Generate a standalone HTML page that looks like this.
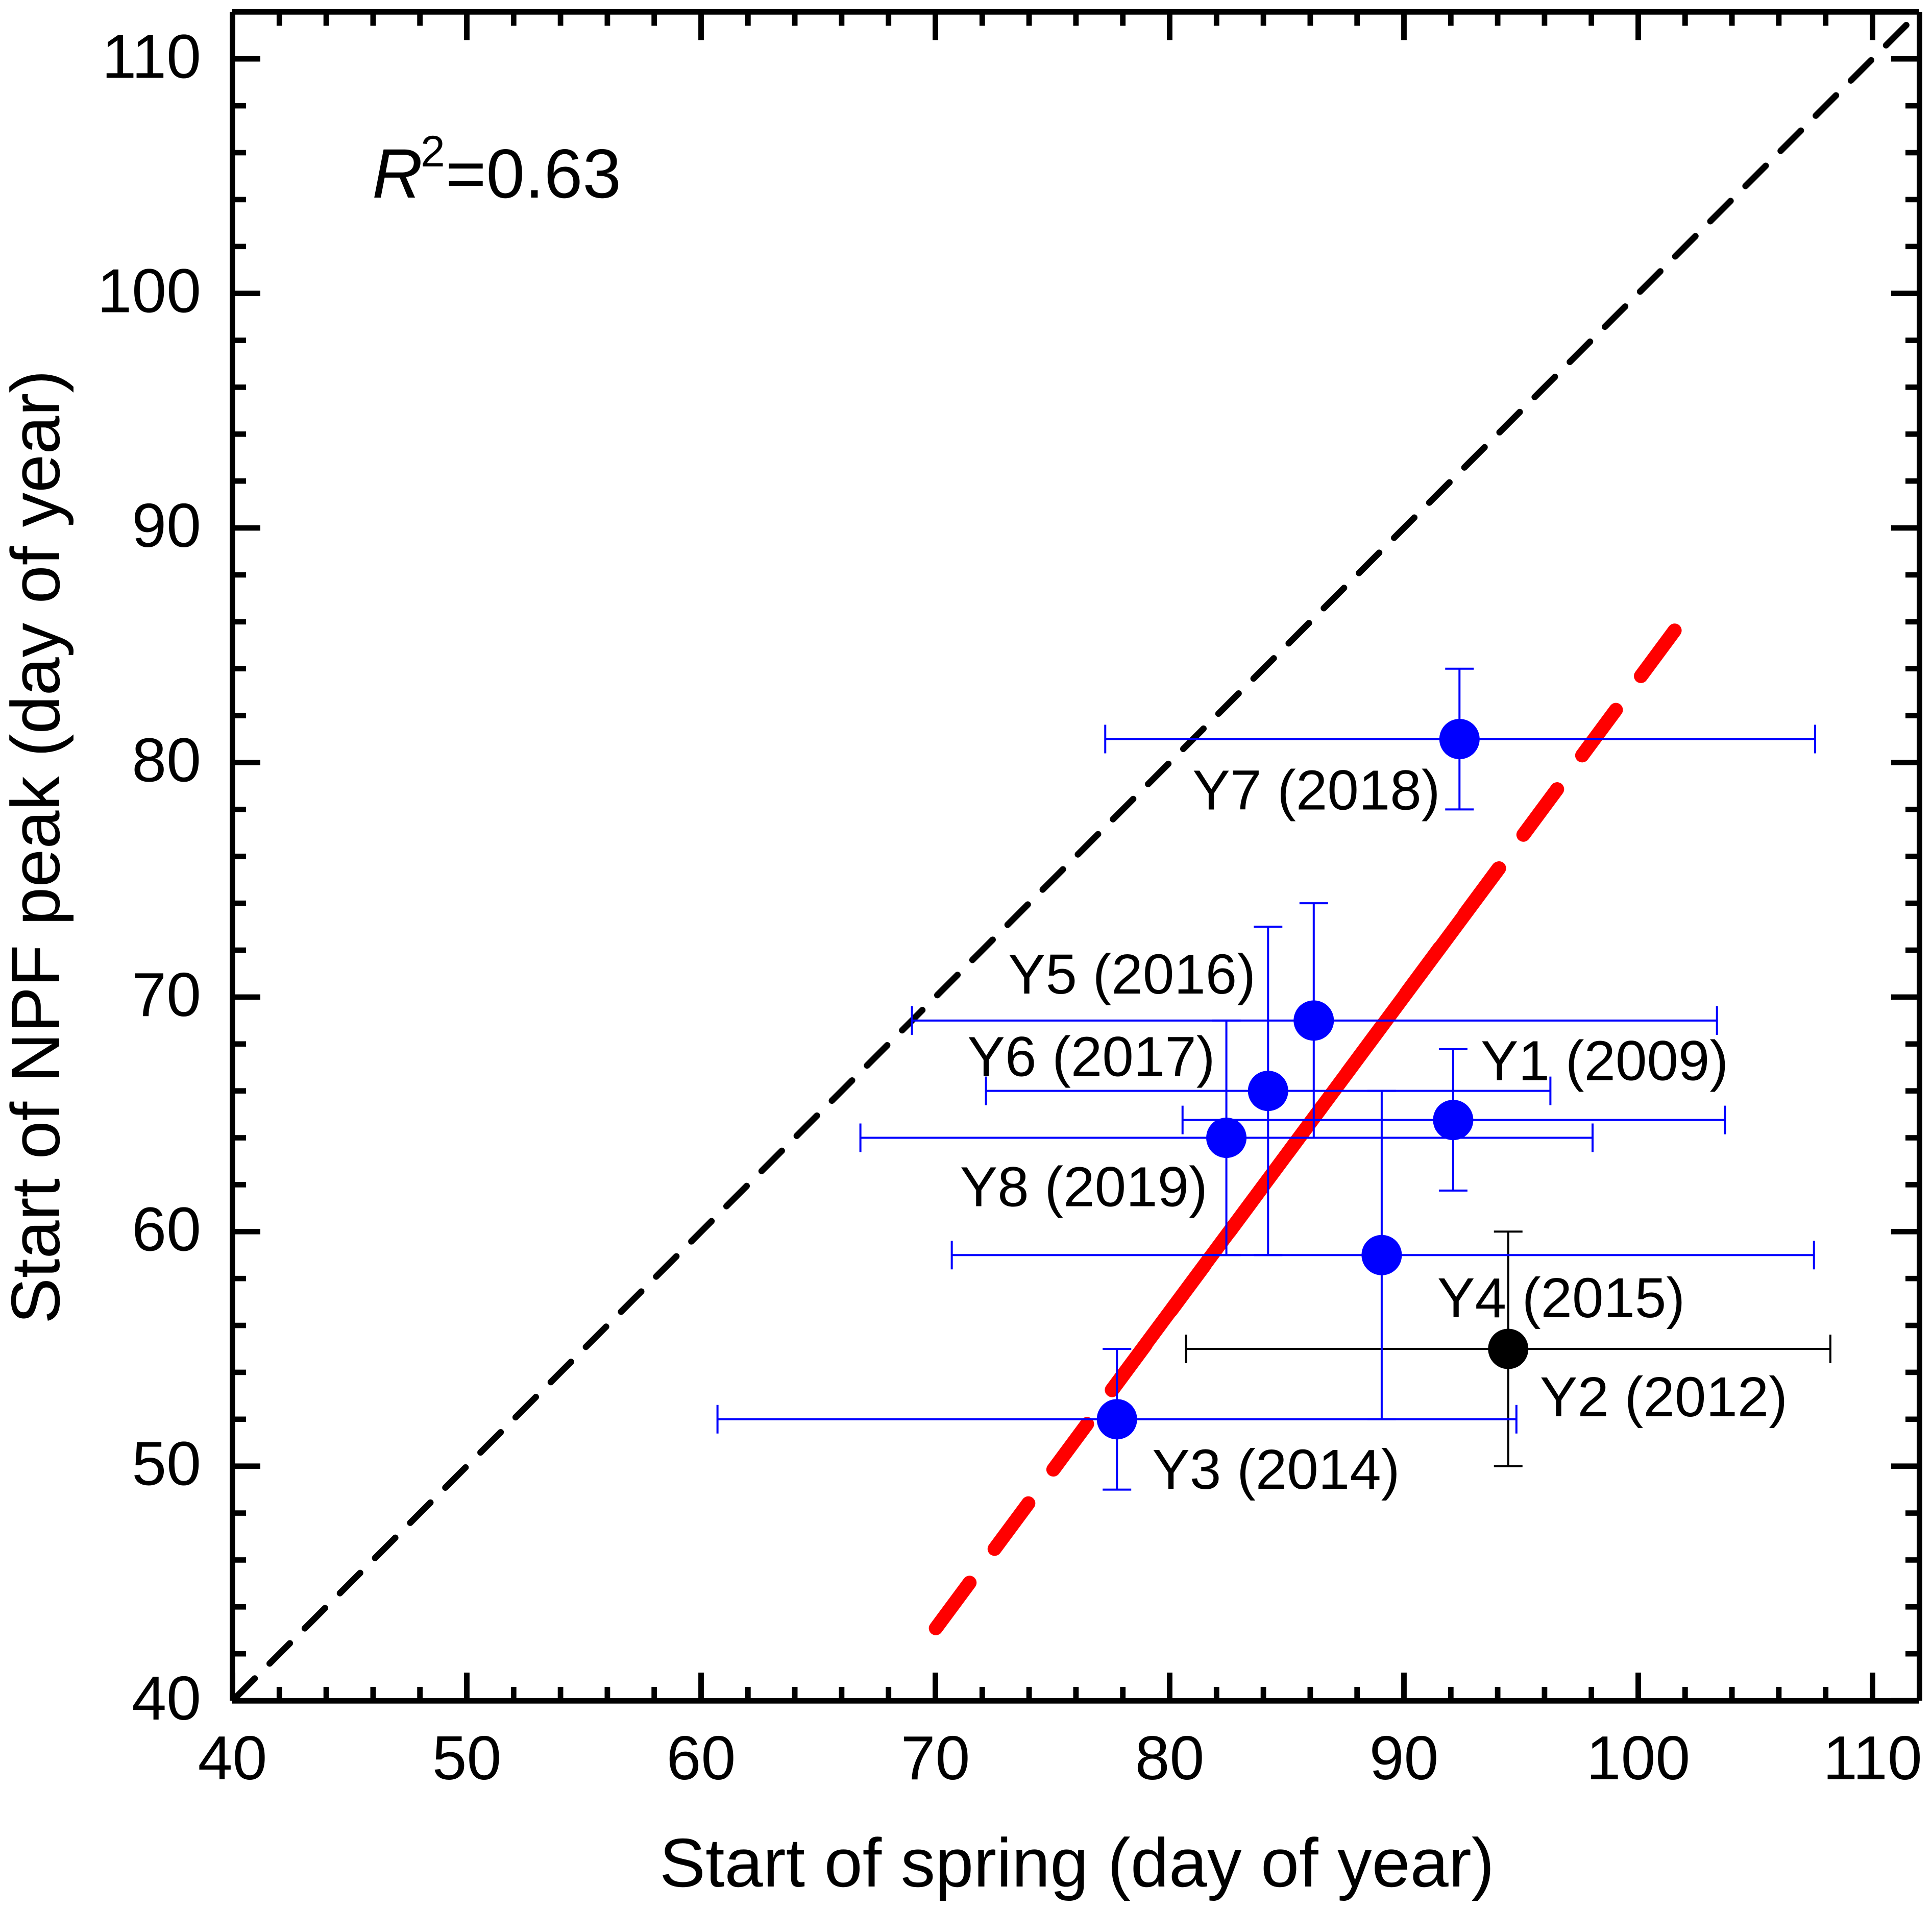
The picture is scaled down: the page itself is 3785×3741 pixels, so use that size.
<!DOCTYPE html>
<html lang="en">
<head>
<meta charset="utf-8">
<title>Start of NPF peak vs start of spring</title>
<style>
html,body{margin:0;padding:0;background:#fff;}
svg{display:block;}
text{font-family:"Liberation Sans",Arial,sans-serif;fill:#000;}
</style>
</head>
<body>
<svg id="chart" xmlns="http://www.w3.org/2000/svg" width="3785" height="3741" viewBox="0 0 3785 3741">
  <rect x="0" y="0" width="3785" height="3741" fill="#fff"></rect>
  <g id="fit-layer"></g>
  <g id="points-layer"></g>
  <g id="axes-layer"></g>
  <text x="729" y="387" font-size="137" font-style="italic">R</text>
  <text x="824" y="326" font-size="86">2</text>
  <text x="873" y="387" font-size="136">=0.63</text>
  <text x="1292" y="3695" font-size="135">Start of spring (day of year)</text>
  <text transform="translate(116 2593) rotate(-90)" x="0" y="0" font-size="135">Start of NPF peak (day of year)</text>
</svg>
<script>
var pointLabels = ['Y1 (2009)','Y2 (2012)','Y3 (2014)','Y4 (2015)','Y5 (2016)','Y6 (2017)','Y7 (2018)','Y8 (2019)'];
var springDay   = [92.1, 94.45, 77.75, 89.05, 86.15, 84.2, 92.37, 82.42];
var springLow   = [80.55, 80.7, 60.7, 70.7, 69.0, 72.16, 77.25, 66.8];
var springHigh  = [103.7, 108.2, 94.8, 107.5, 103.36, 96.25, 107.55, 98.05];
var npfDay      = [64.76, 55, 52, 59, 69, 66, 81, 64];
var npfLow      = [61.75, 50, 49, 52, 64, 59, 78, 59];
var npfHigh     = [67.78, 60, 55, 66, 74, 73, 84, 69];
var excludedYear = 'Y2 (2012)';
var fitX = [70.02, 101.57];
var fitY = [43.09, 85.65];
var fitSolidX = [77.53, 94.06];
var fitSolidY = [53.25, 75.49];
var identityLine = [111.44, 40];
var xTickLabels = [40, 50, 60, 70, 80, 90, 100, 110];
var yTickLabels = [40, 50, 60, 70, 80, 90, 100, 110];
var xMinorTicks = [42,44,46,48,52,54,56,58,62,64,66,68,72,74,76,78,82,84,86,88,92,94,96,98,102,104,106,108,112];
var yMinorTicks = [42,44,46,48,52,54,56,58,62,64,66,68,72,74,76,78,82,84,86,88,92,94,96,98,102,104,106,108];

var NS = 'http://www.w3.org/2000/svg';
var xScale = 45.9, yScale = 45.94;
function px(v){ return 455.5 + (v - 40) * xScale; }
function py(v){ return 23.4 + (112 - v) * yScale; }

function make(tag, parent, attrs){
  var el = document.createElementNS(NS, tag);
  for (var k in attrs) el.setAttribute(k, attrs[k]);
  parent.appendChild(el);
  return el;
}

var fitLayer = document.getElementById('fit-layer');
var pointsLayer = document.getElementById('points-layer');
var axesLayer = document.getElementById('axes-layer');

/* 1:1 line */
var identity = make('line', fitLayer, {x1:px(identityLine[0]), y1:py(identityLine[0]), x2:px(identityLine[1]), y2:py(identityLine[1]), stroke:'#000', 'stroke-width':12.5, 'stroke-linecap':'round', 'stroke-dasharray':'56 41.4'});



/* regression, dashed extrapolation */
var fitDashed = make('line', fitLayer, {x1:px(fitX[0]), y1:py(fitY[0]), x2:px(fitX[1]), y2:py(fitY[1]), stroke:'#f00', 'stroke-width':27.5, 'stroke-linecap':'round', 'stroke-dasharray':'111 82.4'});



var fitSolid = make('line', fitLayer, {x1:px(fitSolidX[0]), y1:py(fitSolidY[0]), x2:px(fitSolidX[1]), y2:py(fitSolidY[1]), stroke:'#f00', 'stroke-width':27.5, 'stroke-linecap':'round'});



/* label offsets are relative to each point */
var labelGroup = make('g', pointsLayer, {});



function drawPoint(i, dx, dy){
  var col = pointLabels[i] === excludedYear ? '#000' : '#00f';
  var g = make('g', pointsLayer, {stroke:col, 'stroke-width':4, fill:'none'});
  
  
  var cx = px(springDay[i]), cy = py(npfDay[i]);
  var h = make('line', g, {x1:px(springLow[i]), y1:cy, x2:px(springHigh[i]), y2:cy});
  
  
  var v = make('line', g, {x1:cx, y1:py(npfLow[i]), x2:cx, y2:py(npfHigh[i])});
  
  
  var c1 = make('line', g, {x1:px(springLow[i]), y1:cy - 28, x2:px(springLow[i]), y2:cy + 28});
  
  
  var c2 = make('line', g, {x1:px(springHigh[i]), y1:cy - 28, x2:px(springHigh[i]), y2:cy + 28});
  
  
  var c3 = make('line', g, {x1:cx - 28, y1:py(npfLow[i]), x2:cx + 28, y2:py(npfLow[i])});
  
  
  var c4 = make('line', g, {x1:cx - 28, y1:py(npfHigh[i]), x2:cx + 28, y2:py(npfHigh[i])});
  
  
  var m = make('circle', g, {cx:cx, cy:cy, r:39.5, fill:col, stroke:'none'});
  
  
  var t = make('text', labelGroup, {x:cx + dx, y:cy + dy, 'font-size':110.5});
  t.textContent = pointLabels[i];
  
  
}
drawPoint(0, 54, -78);
drawPoint(1, 62, 132);
drawPoint(2, 69, 136);
drawPoint(3, 109, 122);
drawPoint(4, -599, -53);
drawPoint(5, -589, -29);
drawPoint(6, -523, 138);
drawPoint(7, -522, 134);
pointsLayer.appendChild(labelGroup);

/* frame */
function bar(x, y, w, h, name){
  var r = make('rect', axesLayer, {x:x, y:y, width:w, height:h, fill:'#000'});
  
  
}
bar(450, 23, 10.5, 3308, 'left-axis-line');
bar(3755, 23, 11, 3308, 'right-axis-line');
bar(455, 18, 3305, 10.7, 'top-axis-line');
bar(455, 3326, 3305, 10.7, 'bottom-axis-line');

function xTick(v, len, name){
  bar(px(v) - 5.4, 3326 - len, 10.8, len, 'bottom-' + name);
  bar(px(v) - 5.4, 28.5, 10.8, len, 'top-' + name);
}
function yTick(v, len, name){
  bar(460, py(v) - 5.3, len, 10.6, 'left-' + name);
  bar(3755 - len, py(v) - 5.3, len, 10.6, 'right-' + name);
}
xMinorTicks.forEach(function(v){ if (v < 112) xTick(v, 22, 'x-minor-tick'); });
yMinorTicks.forEach(function(v){ yTick(v, 22, 'y-minor-tick'); });
xTickLabels.forEach(function(v){
  xTick(v, 50, 'x-major-tick');
  var t = make('text', axesLayer, {x:px(v), y:3485, 'font-size':122, 'text-anchor':'middle'});
  t.textContent = v;
  
  
});
yTickLabels.forEach(function(v){
  yTick(v, 50, 'y-major-tick');
  var t = make('text', axesLayer, {x:394, y:py(v) + 37, 'font-size':122, 'text-anchor':'end'});
  t.textContent = v;
  
  
});
</script>
</body>
</html>
